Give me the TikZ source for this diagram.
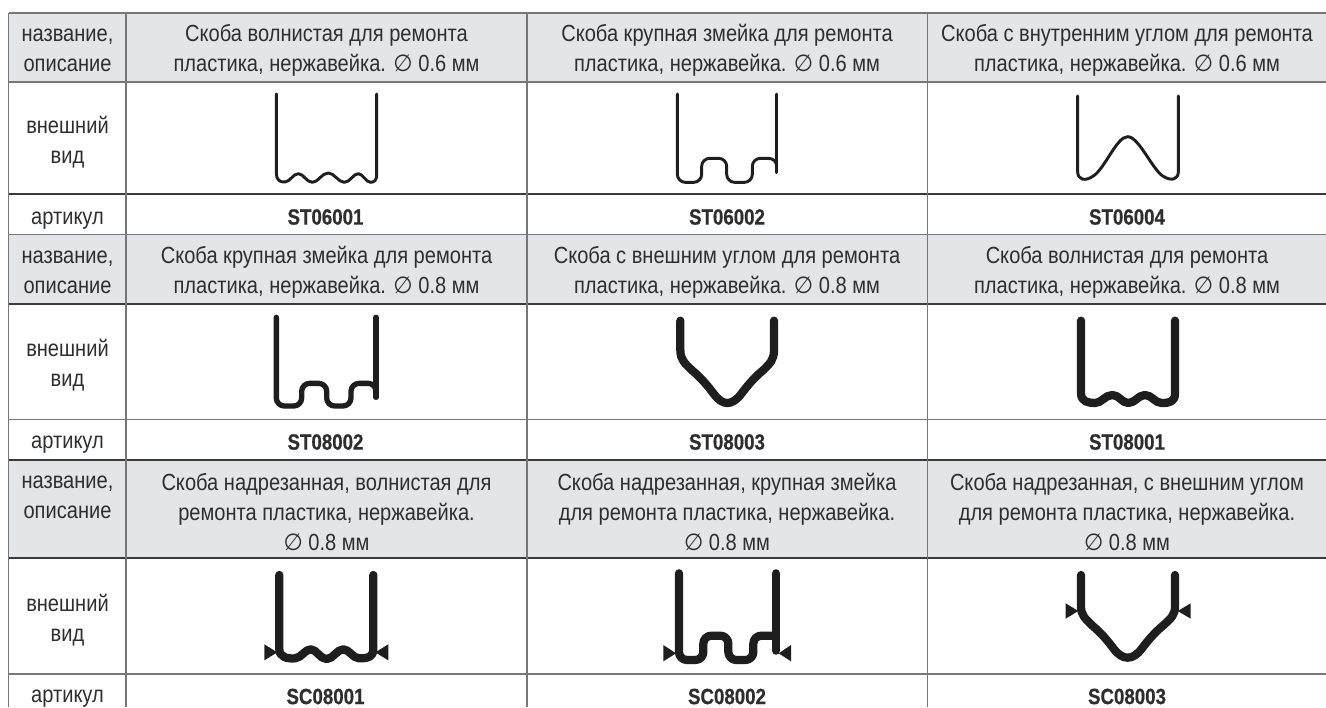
\documentclass[tikz,border=0pt]{standalone}
\usepackage{fontspec}
\setmainfont[FakeStretch=0.86]{Liberation Sans}
\newfontfamily\codef[FakeStretch=0.85,FakeBold=0.6]{Liberation Sans Bold}
\newfontfamily\symf[FakeStretch=0.95]{DejaVu Sans}
\newcommand{\dia}{{\symf ∅}}
\definecolor{cellgrey}{HTML}{E4E5E7}
\definecolor{rulegrey}{HTML}{777777}
\definecolor{ruledark}{HTML}{3A3A3A}
\definecolor{ink}{HTML}{2E2E2E}
\definecolor{wirec}{HTML}{1E1E1E}
\tikzset{
  px/.style={x=0.75pt,y=-0.75pt},
  rowfill/.style={fill=cellgrey,draw=none},
  vrule/.style={draw=rulegrey,line width=1.1pt},
  hlight/.style={draw=rulegrey,line width=1.1pt},
  hdark/.style={draw=ruledark,line width=0.95pt},
  txt/.style={text=ink,align=center,inner sep=0pt,anchor=center,font=\fontsize{17.5pt}{22.5pt}\selectfont},
  code/.style={text=ink,inner sep=0pt,anchor=center,font=\fontsize{16.5pt}{18pt}\selectfont\codef},
  thinw/.style={draw=wirec,line width=2.2pt,line cap=round,line join=round},
  midw/.style={draw=wirec,line width=4pt,line cap=round,line join=round},
  fatw/.style={draw=wirec,line width=6.2pt,line cap=round,line join=round},
  notch/.style={fill=wirec,draw=none},
  zoomed/.style 2 args={xshift=#1*0.75pt,yshift=-#2*0.75pt,x=0.25pt,y=-0.25pt}
}
\begin{document}
\begin{tikzpicture}[px]
\useasboundingbox (0,0) rectangle (1326,707);
% shaded header bands
\fill[rowfill] (8.5,13) rectangle (1326,82);
\fill[rowfill] (8.5,234.5) rectangle (1326,304);
\fill[rowfill] (8.5,460) rectangle (1326,558);
% rules
\draw[hlight] (8.5,13) -- (1326,13);
\draw[hlight] (8.5,82) -- (1326,82);
\draw[hdark] (8.5,194) -- (1326,194);
\draw[hlight] (8.5,234.5) -- (1326,234.5);
\draw[hdark] (8.5,304) -- (1326,304);
\draw[hlight] (8.5,419.5) -- (1326,419.5);
\draw[hdark] (8.5,460) -- (1326,460);
\draw[hdark] (8.5,558) -- (1326,558);
\draw[hlight,line width=1.5pt] (8.5,674) -- (1326,674);
\draw[vrule] (8.5,13) -- (8.5,707);
\draw[vrule] (126,13) -- (126,707);
\draw[vrule] (527,13) -- (527,707);
\draw[vrule] (927.5,13) -- (927.5,707);
% row labels
\node[txt] (a1) at (67.5,50) {название,\\описание};
\node[txt] (b1) at (67.5,142) {внешний\\вид};
\node[txt] (c1) at (67.5,221) {артикул};
\node[txt] (a2) at (67.5,272) {название,\\описание};
\node[txt] (b2) at (67.5,365) {внешний\\вид};
\node[txt] (c2) at (67.5,445) {артикул};
\node[txt] (a3) at (67.5,497) {название,\\описание};
\node[txt] (b3) at (67.5,620) {внешний\\вид};
\node[txt] (c3) at (67.5,698.5) {артикул};
% descriptions
\node[txt] (d11) at (326.5,50) {Скоба волнистая для ремонта\\пластика, нержавейка. \dia{} 0.6 мм};
\node[txt] (d12) at (727,50) {Скоба крупная змейка для ремонта\\пластика, нержавейка. \dia{} 0.6 мм};
\node[txt] (d13) at (1127,50) {Скоба с внутренним углом для ремонта\\пластика, нержавейка. \dia{} 0.6 мм};
\node[txt] (d21) at (326.5,272) {Скоба крупная змейка для ремонта\\пластика, нержавейка. \dia{} 0.8 мм};
\node[txt] (d22) at (727,272) {Скоба с внешним углом для ремонта\\пластика, нержавейка. \dia{} 0.8 мм};
\node[txt] (d23) at (1127,272) {Скоба волнистая для ремонта\\пластика, нержавейка. \dia{} 0.8 мм};
\node[txt] (d31) at (326.5,512) {Скоба надрезанная, волнистая для\\ремонта пластика, нержавейка.\\\dia{} 0.8 мм};
\node[txt] (d32) at (727,512) {Скоба надрезанная, крупная змейка\\для ремонта пластика, нержавейка.\\\dia{} 0.8 мм};
\node[txt] (d33) at (1127,512) {Скоба надрезанная, с внешним углом\\для ремонта пластика, нержавейка.\\\dia{} 0.8 мм};
% article codes
\node[code] (k11) at (325.5,217) {ST06001};
\node[code] (k12) at (727,217) {ST06002};
\node[code] (k13) at (1127,217) {ST06004};
\node[code] (k21) at (325.5,442) {ST08002};
\node[code] (k22) at (727,442) {ST08003};
\node[code] (k23) at (1127,442) {ST08001};
\node[code] (k31) at (325.5,696.5) {SC08001};
\node[code] (k32) at (727,696.5) {SC08002};
\node[code] (k33) at (1127,696.5) {SC08003};
% ST06001
\begin{scope}[zoomed={0}{0}]
\draw[thinw] (829,282) -- (829,520) .. controls (829,540) and (840,547) .. (855,546)
  .. controls (870,545) and (880,521) .. (895,521) .. controls (910,521) and (920,547) .. (937,547)
  .. controls (955,547) and (965,519) .. (985,519) .. controls (1003,519) and (1015,547) .. (1033,547)
  .. controls (1050,547) and (1060,521) .. (1075,521) .. controls (1088,521) and (1098,547) .. (1112,547)
  .. controls (1124,547) and (1130,538) .. (1130,525) -- (1130,282);
\end{scope}
% ST06002
\begin{scope}[zoomed={440}{70}]
\draw[thinw,rounded corners=6pt] (712,72) -- (712,337) -- (785,337) -- (785,265) -- (860,265) -- (860,337) -- (937,337) -- (937,265) -- (1010,265) -- (1010,285);
\draw[thinw] (1010,72) -- (1010,308);
\end{scope}
% ST06004
\begin{scope}[zoomed={880}{70}]
\draw[thinw] (593,78) -- (593,305) .. controls (593,330) and (615,335) .. (640,318)
  .. controls (675,295) and (710,200) .. (743,200) .. controls (776,200) and (815,295) .. (848,318)
  .. controls (875,335) and (895,328) .. (895,305) -- (895,78);
\end{scope}
% ST08002
\begin{scope}[zoomed={0}{300}]
\draw[midw,rounded corners=6pt] (829,52) -- (829,318) -- (905,318) -- (905,250) -- (980,250) -- (980,318) -- (1053,318) -- (1053,250) -- (1128,250) -- (1128,270);
\draw[midw] (1128,52) -- (1128,292);
\end{scope}
% ST08003
\begin{scope}[zoomed={440}{300}]
\draw[fatw] (721,62) -- (721,150) .. controls (721,180) and (735,190) .. (755,210)
  .. controls (785,235) and (805,260) .. (820,280) .. controls (835,300) and (848,309) .. (862,309) .. controls (876,309) and (890,300) .. (905,280)
  .. controls (920,260) and (940,235) .. (970,210) .. controls (990,190) and (1002,180) .. (1002,150) -- (1002,62);
\end{scope}
% ST08001
\begin{scope}[zoomed={880}{300}]
\draw[fatw] (603,62) -- (603,280) .. controls (603,305) and (625,309) .. (645,309)
  .. controls (665,309) and (675,285) .. (697,285) .. controls (718,285) and (725,309) .. (745,309)
  .. controls (765,309) and (775,285) .. (795,285) .. controls (815,285) and (825,309) .. (845,309)
  .. controls (870,309) and (885,305) .. (885,280) -- (885,62);
\end{scope}
% SC08001
\begin{scope}[zoomed={0}{490}]
\draw[fatw] (838,255) -- (838,478) .. controls (838,500) and (860,507) .. (885,505)
  .. controls (905,503) and (915,478) .. (932,478) .. controls (950,478) and (960,507) .. (980,507)
  .. controls (1000,507) and (1010,478) .. (1030,478) .. controls (1048,478) and (1058,505) .. (1078,505)
  .. controls (1105,505) and (1120,500) .. (1120,478) -- (1120,255);
\fill[notch] (793,463) -- (793,511) -- (832,487) -- cycle;
\fill[notch] (1165,463) -- (1165,511) -- (1126,487) -- cycle;
\end{scope}
% SC08002
\begin{scope}[zoomed={440}{490}]
\draw[fatw,rounded corners=6pt] (717,250) -- (717,510) -- (790,510) -- (790,437) -- (865,437) -- (865,510) -- (940,510) -- (940,437) -- (1008,437);
\draw[fatw] (1008,250) -- (1008,482);
\fill[notch] (670,465) -- (670,514) -- (708,490) -- cycle;
\fill[notch] (1053,465) -- (1053,514) -- (1016,490) -- cycle;
\end{scope}
% SC08003
\begin{scope}[zoomed={880}{490}]
\draw[fatw] (603,255) -- (603,350) .. controls (603,375) and (615,385) .. (635,405)
  .. controls (665,430) and (685,455) .. (700,475) .. controls (715,495) and (729,503) .. (743,503) .. controls (757,503) and (771,495) .. (786,475)
  .. controls (801,455) and (821,430) .. (851,405) .. controls (873,385) and (885,375) .. (885,350) -- (885,255);
\fill[notch] (557,340) -- (557,386) -- (595,363) -- cycle;
\fill[notch] (932,340) -- (932,386) -- (893,363) -- cycle;
\end{scope}
\end{tikzpicture}
\end{document}
